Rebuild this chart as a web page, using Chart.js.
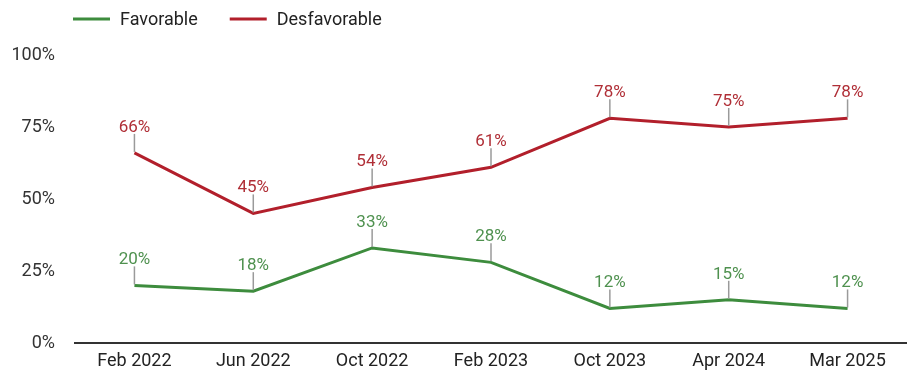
<!DOCTYPE html>
<html>
<head>
<meta charset="utf-8">
<script src="https://cdn.jsdelivr.net/npm/chart.js@4"></script>
<style>
  html, body { margin: 0; padding: 0; background: #fff; }
  #wrap { width: 907px; height: 374px; }
</style>
</head>
<body>
<div id="wrap"><canvas id="c" width="907" height="374"></canvas></div>
<script>
const categories = ['Feb 2022', 'Jun 2022', 'Oct 2022', 'Feb 2023', 'Oct 2023', 'Apr 2024', 'Mar 2025'];
const favorable = [20, 18, 33, 28, 12, 15, 12];
const desfavorable = [66, 45, 54, 61, 78, 75, 78];
const yTicks = [0, 25, 50, 75, 100];
const seriesNames = ['Favorable', 'Desfavorable'];

const GREEN = '#3d8c3d';
const RED = '#b21f2b';
const GREEN_LABEL = '#4f914f';
const RED_LABEL = '#b02f37';

const labelPlugin = {
  id: 'pointLabels',
  afterDatasetsDraw(chart) {
    const ctx = chart.ctx;
    chart.data.datasets.forEach((ds, i) => {
      const meta = chart.getDatasetMeta(i);
      meta.data.forEach((pt, j) => {
        const x = pt.x, y = pt.y;
        ctx.save();
        ctx.strokeStyle = '#9a9a9a';
        ctx.lineWidth = 1.5;
        ctx.beginPath();
        ctx.moveTo(x, y - 1);
        ctx.lineTo(x, y - 19);
        ctx.stroke();
        ctx.fillStyle = ds.labelColor;
        ctx.font = '17px Roboto';
        ctx.textAlign = 'center';
        ctx.textBaseline = 'alphabetic';
        ctx.fillText(ds.data[j] + '%', x, y - 21);
        ctx.restore();
      });
    });
  }
};

const legendPlugin = {
  id: 'customLegend',
  afterDraw(chart) {
    const ctx = chart.ctx;
    let x = 73;
    const y = 19;
    ctx.save();
    ctx.font = '18px Roboto';
    ctx.textBaseline = 'middle';
    chart.data.datasets.forEach((ds) => {
      ctx.strokeStyle = ds.borderColor;
      ctx.lineWidth = 3;
      ctx.beginPath();
      ctx.moveTo(x, y);
      ctx.lineTo(x + 37, y);
      ctx.stroke();
      ctx.fillStyle = '#222';
      ctx.textAlign = 'left';
      ctx.fillText(ds.label, x + 47, y + 1);
      x += 47 + ctx.measureText(ds.label).width + 32;
    });
    ctx.restore();
  }
};

new Chart(document.getElementById('c'), {
  type: 'line',
  data: {
    labels: categories,
    datasets: [
      { label: seriesNames[0], data: favorable, borderColor: GREEN, backgroundColor: GREEN, labelColor: GREEN_LABEL, borderWidth: 3, pointRadius: 0, tension: 0, fill: false },
      { label: seriesNames[1], data: desfavorable, borderColor: RED, backgroundColor: RED, labelColor: RED_LABEL, borderWidth: 3, pointRadius: 0, tension: 0, fill: false }
    ]
  },
  options: {
    responsive: false,
    animation: false,
    layout: { padding: { left: 12, right: 0, top: 55, bottom: 1 } },
    plugins: {
      legend: { display: false },
      tooltip: { enabled: false }
    },
    scales: {
      x: {
        offset: true,
        grid: { display: false, drawTicks: false },
        border: { display: true, color: '#333', width: 2 },
        ticks: { color: '#222', font: { family: 'Roboto', size: 18 }, padding: 8, maxRotation: 0 },
        afterFit(scale) { scale.height = 30; }
      },
      y: {
        min: 0,
        max: 100,
        afterBuildTicks(scale) { scale.ticks = yTicks.map(v => ({ value: v })); },
        grid: { display: false, drawTicks: false },
        border: { display: false },
        ticks: { color: '#333', font: { family: 'Roboto', size: 18 }, padding: 20, callback: v => v + '%' },
        afterFit(scale) { scale.width = 63; }
      }
    }
  },
  plugins: [labelPlugin, legendPlugin]
});
</script>
</body>
</html>
